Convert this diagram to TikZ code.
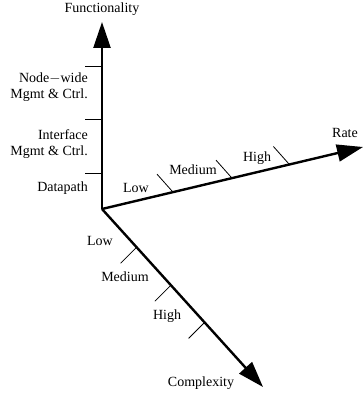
\documentclass[tikz,border=0pt]{standalone}
\usepackage{fontspec}
\setmainfont{Liberation Serif}
\usepackage{tikz}
\usetikzlibrary{arrows.meta,calc,positioning}
\tikzset{axis/.style={line width=2.4pt,-{Triangle[length=26pt,width=17pt]}},tickmark/.style={line width=.8pt},lbl/.style={font=\fontsize{14}{15.5}\selectfont,inner sep=0pt,align=right}}
\begin{document}
\begin{tikzpicture}[x=1pt,y=1pt]
        \useasboundingbox(-102,-187)rectangle(261,209);
        \coordinate(O)at(0,0);
        \coordinate(F)at(0,187);
        \coordinate(R)at(261,62);
        \coordinate(C)at(161,-178);
        \draw[axis](O)--(F);
        \draw[axis](O)--(R);
        \draw[axis](O)--(C);
        % ticks
        \foreach \t in {.193,.481,.765}\draw[tickmark]($(O)!\t!(F)$)--++(-17,0);
        \foreach \t in {.272,.498,.718}\draw[tickmark]($(O)!\t!(R)$)--++(-16,18);
        \foreach \t in {.215,.428,.637}\draw[tickmark]($(O)!\t!(C)$)--++(-16,-16);
        % labels
        \node[lbl](func)at(0,200){Functionality};
        \node[lbl,anchor=east](node)at(-14,122){Node$-$wide\\Mgmt \& Ctrl.};
        \node[lbl,anchor=east](intf)at(-14,65){Interface\\Mgmt \& Ctrl.};
        \node[lbl,anchor=east](dp)at(-14,21){Datapath};
        \node[lbl](rlow)at(34,21){Low};
        \node[lbl](rmed)at(91,39){Medium};
        \node[lbl](rhigh)at(155,51){High};
        \node[lbl](rate)at(243,76){Rate};
        \node[lbl](clow)at(-2,-32){Low};
        \node[lbl](cmed)at(23,-68){Medium};
        \node[lbl](chigh)at(65,-107){High};
        \node[lbl](cplx)at(99,-174){Complexity};
      \end{tikzpicture}
\end{document}
